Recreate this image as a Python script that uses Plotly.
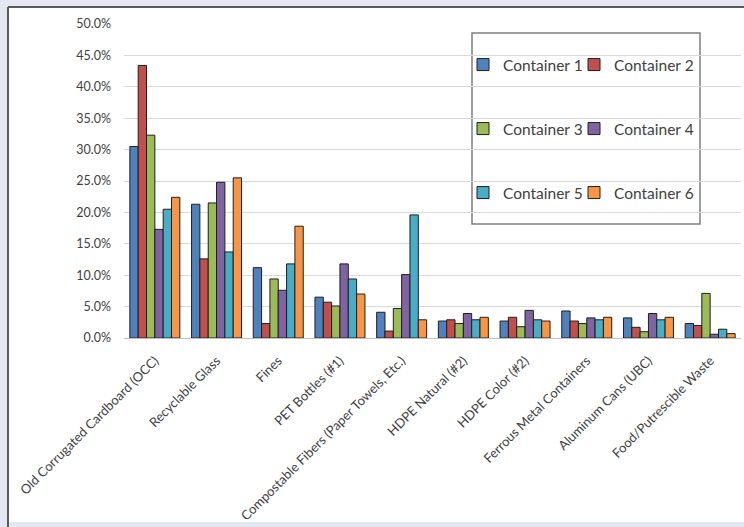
import plotly.graph_objects as go

categories = [
    "Old Corrugated Cardboard (OCC)",
    "Recyclable Glass",
    "Fines",
    "PET Bottles (#1)",
    "Compostable Fibers (Paper Towels, Etc.)",
    "HDPE Natural (#2)",
    "HDPE Color (#2)",
    "Ferrous Metal Containers",
    "Aluminum Cans (UBC)",
    "Food/Putrescible Waste",
]

container_1 = [0.305, 0.213, 0.112, 0.065, 0.041, 0.027, 0.027, 0.043, 0.032, 0.023]
container_2 = [0.434, 0.126, 0.023, 0.057, 0.011, 0.029, 0.033, 0.027, 0.017, 0.020]
container_3 = [0.323, 0.215, 0.094, 0.051, 0.047, 0.023, 0.018, 0.023, 0.010, 0.071]
container_4 = [0.173, 0.248, 0.076, 0.118, 0.101, 0.039, 0.044, 0.032, 0.039, 0.006]
container_5 = [0.205, 0.137, 0.118, 0.094, 0.196, 0.029, 0.029, 0.029, 0.029, 0.014]
container_6 = [0.224, 0.255, 0.178, 0.070, 0.029, 0.033, 0.027, 0.033, 0.033, 0.007]

series_names = ["Container 1", "Container 2", "Container 3",
                "Container 4", "Container 5", "Container 6"]
series_values = [container_1, container_2, container_3,
                 container_4, container_5, container_6]
series_colors = ["#4F81BD", "#C0504D", "#9BBB59", "#8064A2", "#4BACC6", "#F79646"]

y_tick_values = [0.0, 0.05, 0.10, 0.15, 0.20, 0.25, 0.30, 0.35, 0.40, 0.45, 0.50]

W, H = 744, 527
ML, MR, MT, MB = 124, 3, 24, 189
PW, PH = W - ML - MR, H - MT - MB

FONT = "Lato"
TXT = "#404040"


def px_x(p):
    return (p - ML) / PW


def px_y(p):
    return (H - MB - p) / PH


# one legend per entry so the 2-column, widely spaced grid can be laid out
legend_ids = ["legend"] + [f"legend{k}" for k in range(2, 7)]
legend_cols_px = [463, 574]
legend_rows_px = [65, 129, 193]

fig = go.Figure()
for i, (name, vals, col) in enumerate(zip(series_names, series_values, series_colors)):
    fig.add_trace(go.Bar(
        name=name,
        x=categories,
        y=vals,
        marker=dict(color=col, line=dict(color="#1e1e1e", width=1)),
        legend=legend_ids[i],
    ))

legend_common = dict(
    bgcolor="rgba(0,0,0,0)",
    borderwidth=0,
    font=dict(family=FONT, size=15.5, color=TXT),
    xanchor="left",
    yanchor="middle",
    itemclick=False,
)

layout_legends = {}
for i, lid in enumerate(legend_ids):
    layout_legends[lid] = dict(
        legend_common,
        x=px_x(legend_cols_px[i % 2]),
        y=px_y(legend_rows_px[i // 2]),
    )

fig.update_layout(
    width=W,
    height=H,
    margin=dict(l=ML, r=MR, t=MT, b=MB),
    paper_bgcolor="#E4E8F3",
    plot_bgcolor="rgba(0,0,0,0)",
    barmode="group",
    bargap=0.19,
    bargroupgap=0,
    font=dict(family=FONT, size=12, color=TXT),
    showlegend=True,
    **layout_legends,
    xaxis=dict(
        tickangle=-45,
        tickfont=dict(family=FONT, size=13, color=TXT),
        showgrid=False,
        showline=True,
        linecolor="#BFBFBF",
        linewidth=1,
        ticks="",
        ticklabelstandoff=9,
    ),
    yaxis=dict(
        range=[0, 0.5],
        tickvals=y_tick_values,
        tickformat=".1%",
        tickfont=dict(family=FONT, size=12.5, color=TXT),
        showgrid=True,
        gridcolor="#D9D9D9",
        gridwidth=1,
        zeroline=False,
        showline=False,
        ticks="",
        ticklabelstandoff=12,
    ),
    shapes=[
        # white chart area
        dict(type="rect", xref="paper", yref="paper", layer="below",
             x0=px_x(8), x1=px_x(W + 5), y0=px_y(522), y1=px_y(7),
             fillcolor="white", line=dict(width=0)),
        # dark frame edges on left and top
        dict(type="line", xref="paper", yref="paper",
             x0=px_x(8), x1=px_x(8), y0=px_y(527), y1=px_y(7),
             line=dict(color="#5A5A5A", width=2)),
        dict(type="line", xref="paper", yref="paper",
             x0=px_x(8), x1=px_x(W + 5), y0=px_y(7), y1=px_y(7),
             line=dict(color="#5A5A5A", width=2)),
        # legend frame
        dict(type="rect", xref="paper", yref="paper", layer="below",
             x0=px_x(472), x1=px_x(700), y0=px_y(224), y1=px_y(33),
             fillcolor="white", line=dict(color="#7F7F7F", width=1.5)),
    ],
)

fig.write_html("out.html")
